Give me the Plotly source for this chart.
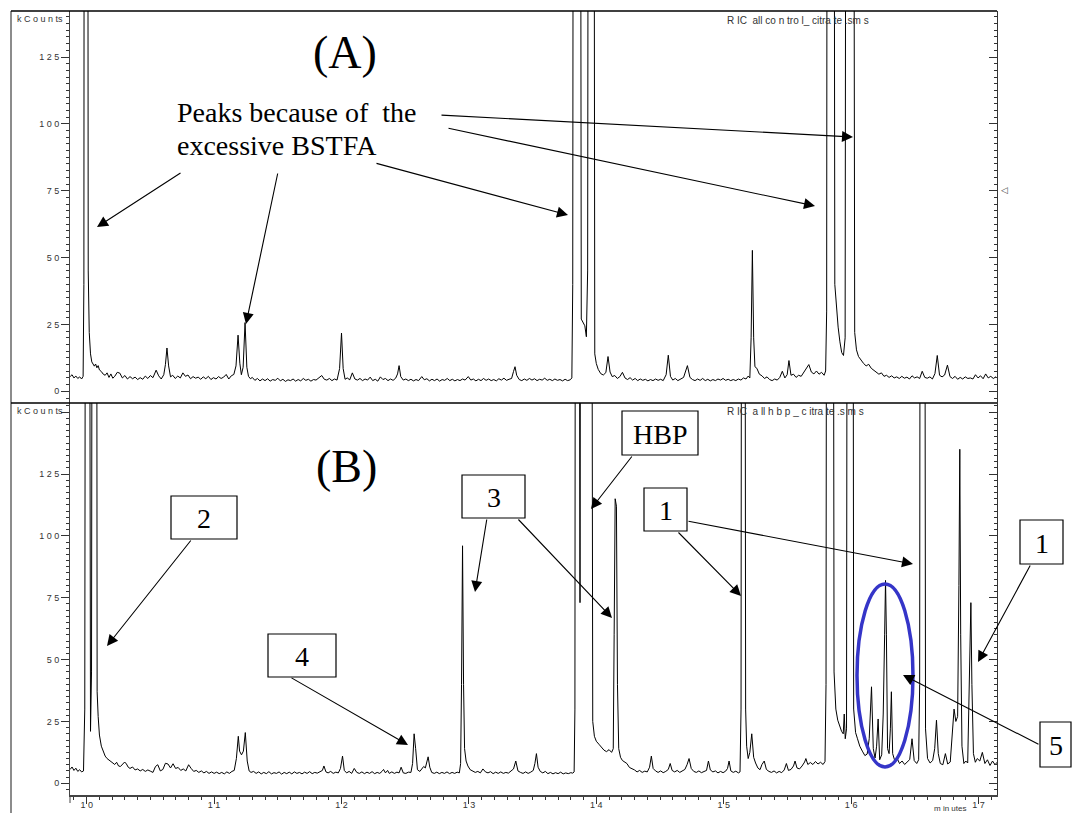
import plotly.graph_objects as go

# ---- Reconstructed ion chromatograms (RIC), kCounts vs retention time in minutes ----
# (A) control_citrate.sms : vertices (time, kCounts)
control_trace = [
    (9.870, 5.5), (9.885, 6.2), (9.900, 5.0), (9.915, 5.7), (9.930, 4.8), (9.945, 5.4), (9.960, 4.6), (9.972, 5.6),
    (9.978, 40), (9.982, 400), (10.006, 400), (10.012, 45), (10.020, 22), (10.030, 14), (10.040, 11), (10.050, 10.4),
    (10.060, 9.4), (10.070, 10.2), (10.080, 8.8), (10.090, 9.6), (10.100, 8.0), (10.115, 7.4), (10.130, 6.4), (10.145, 6.0),
    (10.160, 6.9), (10.175, 5.2), (10.190, 6.5), (10.205, 4.9), (10.220, 5.6), (10.240, 7.1), (10.260, 6.8), (10.280, 5.0),
    (10.300, 5.9), (10.320, 4.6), (10.340, 5.5), (10.360, 4.7), (10.380, 5.3), (10.400, 4.4), (10.420, 5.1), (10.440, 4.5),
    (10.460, 5.7), (10.480, 4.8), (10.500, 5.9), (10.520, 5.1), (10.545, 7.9), (10.565, 5.8), (10.585, 4.6), (10.605, 6.2),
    (10.618, 10), (10.630, 16.2), (10.643, 9.5), (10.658, 5.4), (10.675, 6.0), (10.695, 4.8), (10.715, 5.7), (10.735, 5.0),
    (10.755, 6.9), (10.775, 5.6), (10.795, 6.1), (10.815, 4.7), (10.835, 5.5), (10.855, 4.9), (10.875, 5.3), (10.895, 4.5),
    (10.915, 5.4), (10.935, 4.7), (10.955, 5.6), (10.975, 4.4), (10.995, 5.1), (11.015, 4.6), (11.035, 5.5), (11.055, 4.8),
    (11.075, 5.3), (11.095, 6.3), (11.115, 4.6), (11.135, 5.8), (11.155, 6.3), (11.172, 9.5), (11.188, 21), (11.202, 10.5),
    (11.214, 6.2), (11.228, 9), (11.243, 25.7), (11.257, 9), (11.270, 5.6), (11.285, 4.7), (11.300, 5.2), (11.320, 4.1),
    (11.340, 4.8), (11.360, 3.9), (11.380, 4.6), (11.400, 4.0), (11.420, 4.7), (11.440, 3.8), (11.460, 4.4), (11.480, 4.1),
    (11.500, 4.9), (11.520, 3.9), (11.540, 4.5), (11.560, 3.7), (11.580, 4.3), (11.600, 4.0), (11.620, 4.6), (11.640, 3.8),
    (11.660, 4.4), (11.680, 3.9), (11.700, 4.8), (11.720, 4.1), (11.740, 4.5), (11.760, 3.8), (11.780, 4.4), (11.800, 4.2),
    (11.820, 5.0), (11.845, 5.9), (11.865, 4.5), (11.885, 4.2), (11.905, 4.8), (11.925, 4.0), (11.945, 4.6), (11.965, 4.2),
    (11.985, 8.5), (12.000, 21.8), (12.013, 8.5), (12.028, 4.5), (12.045, 5.0), (12.065, 4.3), (12.085, 6.9), (12.105, 4.6),
    (12.125, 4.2), (12.145, 4.8), (12.165, 4.0), (12.185, 4.6), (12.205, 4.2), (12.225, 5.3), (12.245, 4.0), (12.265, 4.5),
    (12.285, 3.8), (12.305, 5.4), (12.325, 4.4), (12.345, 4.8), (12.365, 4.0), (12.385, 4.6), (12.405, 4.1), (12.425, 4.9),
    (12.440, 6.5), (12.452, 9.6), (12.465, 5.5), (12.485, 4.2), (12.505, 4.6), (12.525, 4.0), (12.545, 4.5), (12.565, 3.9),
    (12.585, 4.4), (12.605, 4.0), (12.630, 5.5), (12.650, 4.3), (12.670, 4.7), (12.690, 3.9), (12.710, 4.5), (12.730, 4.0),
    (12.750, 4.6), (12.770, 3.8), (12.790, 4.4), (12.810, 4.1), (12.830, 4.8), (12.850, 4.0), (12.870, 4.5), (12.890, 3.9),
    (12.910, 4.4), (12.930, 4.0), (12.950, 4.6), (12.970, 4.2), (12.995, 5.5), (13.015, 4.2), (13.035, 4.6), (13.055, 3.9),
    (13.075, 4.5), (13.095, 4.0), (13.115, 4.8), (13.135, 4.1), (13.155, 4.6), (13.175, 4.0), (13.195, 4.4), (13.215, 3.9),
    (13.235, 4.7), (13.255, 4.2), (13.275, 4.9), (13.295, 4.1), (13.315, 4.5), (13.335, 4.8), (13.350, 7.4), (13.362, 9.2),
    (13.375, 6.0), (13.395, 4.4), (13.415, 4.0), (13.435, 4.6), (13.455, 4.1), (13.475, 4.8), (13.495, 4.2), (13.515, 4.7),
    (13.535, 4.0), (13.555, 4.5), (13.575, 4.2), (13.595, 4.9), (13.615, 4.1), (13.635, 4.5), (13.655, 4.0), (13.675, 4.6),
    (13.695, 4.1), (13.715, 4.4), (13.735, 3.9), (13.755, 4.5), (13.775, 4.0), (13.795, 4.3), (13.808, 5.0),
    (13.815, 40), (13.822, 400), (13.872, 400), (13.882, 27), (13.895, 25.5), (13.910, 24.5), (13.922, 20.4), (13.932, 45),
    (13.940, 400), (13.978, 400), (13.988, 14), (14.000, 10.4), (14.015, 8.2), (14.035, 6.6), (14.055, 6.1), (14.075, 7.0),
    (14.092, 13), (14.108, 7.2), (14.125, 5.5), (14.145, 5.9), (14.165, 4.8), (14.185, 5.5), (14.205, 7.1), (14.225, 5.0),
    (14.245, 4.4), (14.265, 5.1), (14.285, 4.2), (14.305, 4.8), (14.325, 4.0), (14.345, 4.6), (14.365, 4.1), (14.385, 4.5),
    (14.405, 3.9), (14.425, 4.4), (14.445, 4.0), (14.465, 4.6), (14.485, 4.1), (14.505, 4.5), (14.525, 4.0), (14.548, 6.2),
    (14.565, 13.5), (14.582, 5.6), (14.600, 4.2), (14.620, 4.8), (14.640, 4.0), (14.660, 4.6), (14.685, 5.2), (14.715, 9.6),
    (14.735, 5.2), (14.755, 4.4), (14.775, 4.0), (14.795, 4.6), (14.815, 4.1), (14.835, 4.8), (14.855, 4.0), (14.875, 4.5),
    (14.895, 3.9), (14.915, 4.4), (14.935, 4.0), (14.955, 4.6), (14.975, 4.2), (14.995, 4.8), (15.015, 4.1), (15.035, 4.5),
    (15.055, 4.0), (15.075, 4.4), (15.095, 4.0), (15.115, 4.6), (15.135, 4.2), (15.155, 5.0), (15.175, 4.6), (15.192, 5.7),
    (15.205, 5.0), (15.215, 20), (15.225, 52.7), (15.235, 20), (15.245, 9.2), (15.260, 8.6), (15.280, 6.4), (15.300, 5.8),
    (15.320, 4.8), (15.340, 5.4), (15.360, 4.4), (15.380, 4.0), (15.400, 4.6), (15.420, 4.2), (15.440, 5.2), (15.460, 7.5),
    (15.480, 5.0), (15.498, 6.2), (15.512, 11.5), (15.528, 6.0), (15.548, 6.4), (15.568, 5.2), (15.588, 6.0), (15.608, 5.6),
    (15.628, 7.0), (15.648, 8.4), (15.668, 10.0), (15.688, 7.2), (15.708, 6.5), (15.728, 7.6), (15.748, 6.4), (15.768, 7.1),
    (15.788, 6.0), (15.800, 7.6),
    (15.808, 30), (15.814, 400), (15.862, 400), (15.872, 40), (15.885, 30), (15.898, 24), (15.912, 18.5), (15.926, 14.5),
    (15.940, 13.4), (15.953, 20), (15.962, 400), (16.016, 400), (16.028, 22), (16.042, 15.5), (16.058, 13), (16.078, 11.6),
    (16.098, 10.4), (16.118, 9.5), (16.138, 10.1), (16.158, 8.6), (16.178, 7.8), (16.198, 7.0), (16.218, 6.4), (16.238, 6.9),
    (16.258, 5.6), (16.278, 6.0), (16.298, 5.2), (16.318, 5.8), (16.338, 5.0), (16.358, 5.4), (16.378, 4.8), (16.398, 5.6),
    (16.418, 4.9), (16.438, 5.3), (16.458, 4.6), (16.478, 5.8), (16.498, 5.0), (16.518, 5.4), (16.538, 4.8), (16.558, 7.5),
    (16.578, 5.2), (16.598, 4.9), (16.618, 5.4), (16.638, 4.6), (16.658, 6.6), (16.676, 13.4), (16.694, 6.0), (16.714, 5.4),
    (16.734, 6.1), (16.756, 9.8), (16.776, 5.5), (16.796, 4.8), (16.816, 5.6), (16.836, 4.5), (16.856, 5.2), (16.876, 4.6),
    (16.896, 5.4), (16.916, 4.8), (16.936, 5.0), (16.956, 4.6), (16.976, 6.2), (16.996, 5.0), (17.016, 5.8), (17.036, 4.7),
    (17.056, 6.5), (17.076, 5.0), (17.096, 5.6), (17.116, 4.8), (17.136, 5.4), (17.145, 5.0),
]

# (B) hbp_citrate.sms : vertices (time, kCounts)
hbp_trace = [
    (9.870, 5.6), (9.885, 6.6), (9.900, 5.2), (9.915, 6.1), (9.930, 4.8), (9.945, 5.5), (9.960, 4.6), (9.975, 5.0),
    (9.985, 30), (9.993, 400), (10.018, 400), (10.026, 40), (10.030, 21), (10.038, 45), (10.046, 400), (10.076, 400),
    (10.082, 37), (10.090, 27), (10.100, 19.5), (10.115, 15), (10.130, 12.8), (10.145, 11), (10.160, 10), (10.175, 9.4),
    (10.190, 8.6), (10.205, 8.0), (10.220, 7.6), (10.235, 8.5), (10.250, 7.0), (10.265, 6.8), (10.280, 7.5), (10.298, 8.6),
    (10.312, 7.8), (10.326, 6.5), (10.340, 6.0), (10.360, 6.6), (10.380, 5.4), (10.400, 5.8), (10.420, 5.0), (10.440, 5.6),
    (10.460, 4.8), (10.480, 5.4), (10.500, 4.9), (10.520, 4.4), (10.540, 6.8), (10.558, 7.5), (10.578, 5.0), (10.598, 5.6),
    (10.618, 8.1), (10.638, 7.8), (10.658, 6.2), (10.678, 7.9), (10.698, 6.0), (10.718, 6.4), (10.738, 5.2), (10.758, 5.8),
    (10.778, 5.0), (10.800, 7.5), (10.820, 6.0), (10.840, 4.8), (10.860, 5.2), (10.880, 4.4), (10.900, 5.0), (10.920, 4.2),
    (10.940, 4.8), (10.960, 4.0), (10.980, 4.6), (11.000, 4.0), (11.020, 4.5), (11.040, 3.9), (11.060, 4.4), (11.080, 3.8),
    (11.100, 4.6), (11.120, 4.0), (11.140, 4.8), (11.158, 5.2),
    (11.175, 10), (11.190, 19), (11.200, 13), (11.215, 11.5), (11.230, 13), (11.245, 20.5), (11.260, 9), (11.275, 5.0),
    (11.290, 4.4), (11.310, 4.8), (11.330, 4.0), (11.350, 4.6), (11.370, 3.8), (11.390, 4.4), (11.410, 3.9), (11.430, 4.7),
    (11.450, 3.8), (11.470, 4.3), (11.490, 4.0), (11.510, 4.6), (11.530, 3.7), (11.550, 4.4), (11.570, 3.9), (11.590, 4.5),
    (11.610, 3.8), (11.630, 4.6), (11.650, 4.0), (11.670, 4.4), (11.690, 3.8), (11.710, 4.5), (11.730, 4.0), (11.750, 4.7),
    (11.770, 3.9), (11.790, 4.4), (11.810, 4.1), (11.830, 4.6), (11.850, 5.2), (11.862, 7.0), (11.878, 4.6), (11.895, 4.2),
    (11.915, 4.8), (11.935, 4.0), (11.955, 4.5), (11.975, 4.2), (11.992, 6.0), (12.008, 11), (12.022, 5.2), (12.040, 4.2),
    (12.060, 4.8), (12.080, 4.0), (12.100, 6.0), (12.120, 4.4), (12.140, 4.0), (12.160, 4.6), (12.180, 3.9), (12.200, 4.5),
    (12.220, 4.0), (12.240, 4.7), (12.260, 3.9), (12.280, 4.4), (12.300, 4.0), (12.318, 4.8), (12.330, 5.6), (12.345, 4.2),
    (12.362, 5.2), (12.375, 4.0), (12.395, 4.6), (12.415, 4.0), (12.435, 4.5), (12.452, 4.2), (12.468, 6.5), (12.485, 4.2),
    (12.505, 4.0), (12.525, 4.5), (12.545, 4.4), (12.558, 8), (12.570, 20), (12.582, 14), (12.596, 5.5), (12.615, 4.8),
    (12.632, 6.0), (12.645, 6.8), (12.658, 6.2), (12.668, 8.2), (12.680, 10.7), (12.693, 6.5), (12.708, 4.4), (12.728, 4.0),
    (12.748, 4.5), (12.768, 3.9), (12.788, 4.4), (12.808, 4.0), (12.828, 4.6), (12.848, 3.9), (12.868, 4.4), (12.888, 4.0),
    (12.908, 4.5), (12.925, 4.2), (12.935, 8), (12.942, 40), (12.950, 96), (12.958, 40), (12.966, 14), (12.978, 9),
    (12.992, 7.0), (13.010, 5.5), (13.030, 5.0), (13.050, 4.4), (13.070, 4.8), (13.090, 4.2), (13.110, 5.8), (13.130, 4.6),
    (13.150, 4.2), (13.170, 4.7), (13.190, 3.9), (13.210, 4.5), (13.230, 4.0), (13.250, 4.6), (13.270, 4.0), (13.290, 4.4),
    (13.310, 4.1), (13.330, 4.8), (13.350, 5.8), (13.368, 9), (13.385, 5.0), (13.405, 4.4), (13.425, 4.0), (13.445, 4.6),
    (13.465, 4.0), (13.485, 4.5), (13.505, 5.2), (13.518, 8), (13.530, 12), (13.543, 6.5), (13.560, 4.8), (13.580, 4.2),
    (13.600, 4.8), (13.620, 3.9), (13.640, 4.4), (13.660, 3.8), (13.680, 4.3), (13.700, 3.9), (13.720, 4.5), (13.740, 3.8),
    (13.760, 4.2), (13.780, 3.9), (13.800, 4.3), (13.815, 4.1), (13.826, 4.6),
    (13.832, 30), (13.838, 400), (13.862, 400), (13.872, 73), (13.880, 400), (13.960, 400), (13.972, 25), (13.985, 19),
    (14.000, 17), (14.020, 15.8), (14.040, 14.6), (14.060, 13.4), (14.080, 12.8), (14.100, 13.6), (14.120, 12.5), (14.133, 14),
    (14.140, 60), (14.148, 115), (14.158, 112), (14.166, 40), (14.176, 14), (14.190, 10.5), (14.205, 9.2), (14.220, 8.6),
    (14.240, 8.0), (14.260, 6.4), (14.280, 6.0), (14.300, 5.4), (14.320, 4.6), (14.340, 5.2), (14.360, 4.4), (14.380, 4.9),
    (14.400, 4.6), (14.418, 6.5), (14.432, 11), (14.446, 6.0), (14.465, 5.0), (14.485, 4.4), (14.505, 5.0), (14.525, 4.3),
    (14.545, 4.8), (14.565, 5.6), (14.580, 8), (14.595, 5.2), (14.615, 4.6), (14.635, 5.2), (14.655, 4.4), (14.675, 4.9),
    (14.695, 5.6), (14.712, 7.5), (14.728, 10), (14.745, 6.0), (14.765, 4.8), (14.785, 4.4), (14.805, 5.0), (14.825, 4.3),
    (14.845, 4.8), (14.865, 5.2), (14.880, 9), (14.895, 5.4), (14.915, 4.6), (14.935, 5.0), (14.955, 4.2), (14.975, 4.8),
    (14.995, 4.3), (15.015, 4.9), (15.030, 6.0), (15.042, 9), (15.056, 5.0), (15.075, 4.4), (15.095, 4.9), (15.115, 4.2),
    (15.128, 4.6),
    (15.136, 30), (15.142, 400), (15.164, 400), (15.172, 30), (15.180, 15), (15.192, 10), (15.205, 12.5), (15.220, 20),
    (15.235, 10.5), (15.250, 8.2), (15.268, 6.2), (15.285, 5.5), (15.300, 7.6), (15.318, 9), (15.335, 5.6), (15.355, 4.8),
    (15.375, 4.4), (15.395, 5.0), (15.415, 4.2), (15.435, 4.8), (15.455, 4.3), (15.475, 5.4), (15.492, 8), (15.508, 5.2),
    (15.528, 5.6), (15.548, 7), (15.560, 9), (15.575, 6.2), (15.595, 5.8), (15.615, 7.0), (15.635, 8.6), (15.645, 10),
    (15.660, 7.6), (15.680, 8.4), (15.700, 7.6), (15.720, 8.8), (15.740, 7.8), (15.760, 8.5), (15.780, 7.6), (15.795, 8.8),
    (15.803, 40), (15.810, 400), (15.857, 400), (15.866, 45), (15.880, 30), (15.895, 25.5), (15.910, 23), (15.925, 21),
    (15.938, 20), (15.946, 28), (15.954, 18), (15.964, 22), (15.972, 400), (16.012, 400), (16.020, 30), (16.035, 20.5),
    (16.050, 18), (16.068, 15), (16.088, 13), (16.108, 11.2), (16.126, 11.8), (16.142, 18), (16.160, 39), (16.174, 14),
    (16.188, 10.2), (16.200, 15), (16.212, 26), (16.224, 9.5), (16.240, 11.5), (16.252, 28), (16.263, 60), (16.270, 82),
    (16.277, 60), (16.286, 14), (16.298, 12), (16.308, 22), (16.316, 37), (16.326, 12), (16.342, 9.2), (16.360, 10.2),
    (16.380, 8.0), (16.400, 9.0), (16.420, 7.6), (16.440, 8.6), (16.460, 9.6), (16.478, 18), (16.495, 9.2), (16.515, 8.0),
    (16.530, 9.5), (16.538, 40), (16.544, 400), (16.575, 400), (16.584, 22), (16.600, 10), (16.620, 8.2), (16.640, 9.2),
    (16.656, 14), (16.670, 25.5), (16.684, 12), (16.700, 8.0), (16.720, 7.5), (16.740, 12), (16.758, 7.8), (16.778, 8.6),
    (16.794, 20), (16.808, 30), (16.822, 25), (16.836, 27), (16.846, 80), (16.853, 135), (16.860, 60), (16.870, 15),
    (16.885, 8.0), (16.900, 9.0), (16.915, 8.2), (16.930, 40), (16.940, 73), (16.948, 40), (16.960, 12), (16.975, 8.5),
    (16.990, 10), (17.010, 9.0), (17.030, 12.5), (17.050, 8.0), (17.070, 9.5), (17.090, 7.2), (17.110, 9.0), (17.130, 7.5),
    (17.145, 8.5),
]

# Axis ticks (labels are letter-spaced, as printed by the instrument software)
time_ticks = [10, 11, 12, 13, 14, 15, 16, 17]
time_tick_text = ["1 0", "1 1", "1 2", "1 3", "1 4", "1 5", "1 6", "1 7"]
count_ticks = [0, 25, 50, 75, 100, 125, 150]
count_tick_text = ["0", "2 5", "5 0", "7 5", "1 0 0", "1 2 5", ""]

time_range = [9.869, 17.145]
range_a = [-4.37, 142.2]
range_b = [-4.73, 153.7]

W, H = 1073, 813


def px(x):
    return x / W


def py(y):
    return 1 - y / H


a_time = [p[0] for p in control_trace]
a_counts = [p[1] for p in control_trace]
b_time = [p[0] for p in hbp_trace]
b_counts = [p[1] for p in hbp_trace]

SANS = "Liberation Sans, Arial, sans-serif"
SERIF = "Liberation Serif, Times New Roman, serif"
TICKFONT = dict(family=SANS, size=9, color="#333")

fig = go.Figure()
fig.add_trace(go.Scatter(x=a_time, y=a_counts, mode="lines", xaxis="x2", yaxis="y2",
                         line=dict(color="black", width=1), hoverinfo="skip"))
fig.add_trace(go.Scatter(x=b_time, y=b_counts, mode="lines", xaxis="x", yaxis="y",
                         line=dict(color="black", width=1), hoverinfo="skip"))
# invisible companions so the right-hand tick axes are drawn
fig.add_trace(go.Scatter(x=a_time[:1], y=a_counts[:1], mode="markers", xaxis="x2", yaxis="y3",
                         marker=dict(opacity=0), hoverinfo="skip"))
fig.add_trace(go.Scatter(x=b_time[:1], y=b_counts[:1], mode="markers", xaxis="x", yaxis="y4",
                         marker=dict(opacity=0), hoverinfo="skip"))

XD = [px(70), px(997)]
DOM_A = [py(403), py(11)]
DOM_B = [py(795), py(403)]

yaxis_common = dict(
    tickmode="array", tickvals=count_ticks, ticktext=count_tick_text,
    ticks="outside", ticklen=8, tickwidth=1, tickcolor="#333",
    minor=dict(dtick=2.5, tick0=0, ticks="outside", ticklen=3, tickcolor="#333", showgrid=False),
    showline=True, linecolor="#444", linewidth=1, showgrid=False, zeroline=False,
    tickfont=TICKFONT, fixedrange=True,
)
right_common = dict(
    tickmode="array", tickvals=count_ticks, showticklabels=False,
    ticks="inside", ticklen=8, tickwidth=1, tickcolor="#333",
    minor=dict(dtick=2.5, tick0=0, ticks="inside", ticklen=3, tickcolor="#333", showgrid=False),
    showline=True, linecolor="#333", linewidth=1, showgrid=False, zeroline=False, side="right",
)

fig.update_layout(
    width=W, height=H, margin=dict(l=0, r=0, t=0, b=0),
    paper_bgcolor="white", plot_bgcolor="white", showlegend=False,
    xaxis=dict(domain=XD, anchor="y", range=time_range,
               tickmode="array", tickvals=time_ticks, ticktext=time_tick_text,
               ticks="outside", ticklen=7, tickwidth=1, tickcolor="#333",
               minor=dict(dtick=0.1, tick0=10, ticks="outside", ticklen=3, tickcolor="#333", showgrid=False),
               showline=True, linecolor="#444", linewidth=1.5, showgrid=False, zeroline=False,
               tickfont=TICKFONT, ticklabelstandoff=-7),
    yaxis=dict(domain=DOM_B, anchor="x", range=range_b, **yaxis_common),
    xaxis2=dict(domain=XD, anchor="y2", range=time_range, visible=False),
    yaxis2=dict(domain=DOM_A, anchor="x2", range=range_a, **yaxis_common),
    yaxis3=dict(overlaying="y2", anchor="x2", range=range_a, **right_common),
    yaxis4=dict(overlaying="y", anchor="x", range=range_b, **right_common),
)

# ---- frame lines ----
shapes = [
    dict(type="line", xref="paper", yref="paper", x0=px(11), x1=px(11), y0=py(11), y1=py(813),
         line=dict(color="#666", width=1.5)),
    dict(type="line", xref="paper", yref="paper", x0=px(11), x1=px(997), y0=py(11), y1=py(11),
         line=dict(color="black", width=1.5)),
    dict(type="line", xref="paper", yref="paper", x0=px(11), x1=px(997), y0=py(403), y1=py(403),
         line=dict(color="black", width=1.5)),
    dict(type="line", xref="paper", yref="paper", x0=px(70), x1=px(70), y0=py(795), y1=py(803),
         line=dict(color="#444", width=1)),
]

# ---- labelled boxes (x0, y0, x1, y1 in px) ----
boxes = [
    ("2", 171, 496, 237, 539, 28),
    ("4", 268, 634, 336, 677, 28),
    ("3", 462, 475, 525, 518, 28),
    ("HBP", 622, 411, 698, 455, 28),
    ("1", 644, 488, 687, 531, 28),
    ("1", 1020, 520, 1063, 564, 28),
    ("5", 1040, 722, 1071, 767, 28),
]
annotations = []
for label, x0, y0, x1, y1, fs in boxes:
    shapes.append(dict(type="rect", xref="paper", yref="paper", x0=px(x0), x1=px(x1), y0=py(y1), y1=py(y0),
                       line=dict(color="black", width=1.2), fillcolor="white", layer="above"))
    annotations.append(dict(x=px((x0 + x1) / 2), y=py((y0 + y1) / 2 + 1), xref="paper", yref="paper",
                            text=label, showarrow=False, font=dict(family=SERIF, size=fs, color="black"),
                            xanchor="center", yanchor="middle"))

# highlighted cluster (component 5)
shapes.append(dict(type="circle", xref="paper", yref="paper", x0=px(857), x1=px(913), y0=py(767), y1=py(584),
                   line=dict(color="#3535c8", width=3.5), layer="above"))

# ---- free text ----
texts = [
    ("(A)", 345, 52, 46, "center"),
    ("(B)", 346, 466, 46, "center"),
    ("Peaks because of\u00a0 the", 175, 112, 28, "left"),
    ("excessive BSTFA", 175, 145, 28, "left"),
]
for t, x, y, fs, anc in texts:
    annotations.append(dict(x=px(x), y=py(y), xref="paper", yref="paper", text=t, showarrow=False,
                            font=dict(family=SERIF, size=fs, color="black"), xanchor=anc, yanchor="middle"))

small = [
    ("k C o u n ts", 15, 19, 9),
    ("k C o u n ts", 15, 411, 9),
    ("R IC\u00a0 all co n tro l_ citra te .sm s", 725, 20, 10),
    ("R IC\u00a0 a ll h b p _ c itra te .s m s", 725, 411, 10),
    ("m in utes", 932, 808.5, 8),
]
for t, x, y, fs in small:
    annotations.append(dict(x=px(x), y=py(y), xref="paper", yref="paper", text=t, showarrow=False,
                            font=dict(family=SANS, size=fs, color="#333"), xanchor="left", yanchor="middle"))
annotations.append(dict(x=px(999), y=py(190), xref="paper", yref="paper", text="◁", showarrow=False,
                        font=dict(family="DejaVu Sans", size=9, color="#444"), xanchor="left", yanchor="middle"))

# ---- arrows: (tail_x, tail_y, tip_x, tip_y) in px ----
arrows = [
    (182, 172, 97, 227),
    (278, 172, 246, 324),
    (375, 163, 568, 215),
    (447, 128, 815, 206),
    (440, 115, 853, 137),
    (192, 539, 107, 646),
    (290, 677, 408, 745),
    (487, 518, 475, 592),
    (517, 518, 612, 618),
    (633, 455, 591, 509),
    (677, 531, 741, 596),
    (687, 521, 913, 564),
    (1031, 564, 978, 662),
    (1040, 745, 903, 675),
]
for tx, ty, hx, hy in arrows:
    annotations.append(dict(x=px(hx), y=py(hy), xref="paper", yref="paper", text="",
                            showarrow=True, ax=tx - hx, ay=ty - hy, axref="pixel", ayref="pixel",
                            arrowhead=2, arrowsize=2.0, arrowwidth=1.1, arrowcolor="black", standoff=0))

fig.update_layout(shapes=shapes, annotations=annotations)
fig.write_html("out.html")
